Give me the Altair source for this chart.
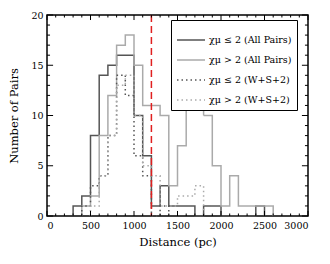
import altair as alt
import pandas as pd

# bin edges (pc) and counts, bin width 100
start_a = 300
counts_a = [1, 2, 8, 14, 15, 16, 16, 10, 6, 1, 3, 1, 1, 1, 0, 1, 1, 0, 0, 0, 0, 1]   # chi<=2 all (300..2500)
start_b = 400
counts_b = [1, 2, 8, 12, 17, 18, 15, 11, 11, 10, 3, 7, 11, 12, 10, 5, 1, 4, 1, 1, 1, 1]  # chi>2 all (400..2600)
start_c = 400
counts_c = [1, 3, 4, 8, 14, 12, 6, 4, 0, 1]          # chi<=2 W+S+2
start_d = 500
counts_d = [1, 4, 8, 13, 14, 10, 5, 4, 1, 1, 2, 2, 3]  # chi>2 W+S+2

labels = ["χμ ≤ 2 (All Pairs)", "χμ > 2 (All Pairs)", "χμ ≤ 2 (W+S+2)", "χμ > 2 (W+S+2)"]
colors = ["#555555", "#aaaaaa", "#555555", "#aaaaaa"]
dashes = [[1, 0], [1, 0], [1.5, 3], [1.5, 3]]
cut = [1200]

x_major = [0, 500, 1000, 1500, 2000, 2500, 3000]
y_major = [0, 5, 10, 15, 20]

rows = []
for lab, st, cs in zip(labels, [start_a, start_b, start_c, start_d], [counts_a, counts_b, counts_c, counts_d]):
    rows.append({"s": lab, "x": st, "y": 0, "o": 0})
    for i, c in enumerate(cs):
        rows.append({"s": lab, "x": st + 100 * i, "y": c, "o": i + 1})
    rows.append({"s": lab, "x": st + 100 * len(cs), "y": 0, "o": len(cs) + 1})
df = pd.DataFrame(rows)

font = "DejaVu Serif"
xs = alt.Scale(domain=[0, 3000], nice=False)
ys = alt.Scale(domain=[0, 20], nice=False)

hist = alt.Chart(df).mark_line(interpolate="step-after", strokeWidth=1.5).encode(
    x=alt.X("x:Q", scale=xs, axis=alt.Axis(values=x_major, format="d", title="Distance (pc)", tickSize=0,
                                            labelPadding=4, grid=False)),
    y=alt.Y("y:Q", scale=ys, axis=alt.Axis(values=y_major, format="d", title="Number of Pairs", tickSize=0,
                                            labelPadding=4, grid=False)),
    color=alt.Color("s:N", scale=alt.Scale(domain=labels, range=colors), title=None,
                    legend=alt.Legend(orient="none", legendX=124, legendY=5, symbolType="stroke",
                                      symbolSize=784, symbolStrokeWidth=1.5, strokeColor="black",
                                      fillColor="white", padding=5, labelFont=font, labelFontSize=9.5,
                                      labelColor="black", rowPadding=-11, labelLimit=200, labelOffset=3)),
    strokeDash=alt.StrokeDash("s:N", scale=alt.Scale(domain=labels, range=dashes), title=None),
    order="o:Q",
    detail="s:N",
)

red = alt.Chart(pd.DataFrame({"x": cut})).mark_rule(color="#e02020", strokeWidth=1.5,
                                                     strokeDash=[7, 4]).encode(x=alt.X("x:Q", scale=xs))

# inward ticks (major and minor) on all four sides
xt = pd.DataFrame({"x": list(range(0, 3001, 100))})
xt["len"] = [0.5 if v % 500 == 0 else 0.25 for v in xt["x"]]
xt["top"] = 20 - xt["len"]
xt["b0"] = 0
xt["t0"] = 20
yt = pd.DataFrame({"y": list(range(0, 21))})
yt["len"] = [70 if v % 5 == 0 else 35 for v in yt["y"]]
yt["right"] = 3000 - yt["len"]
yt["l0"] = 0
yt["r0"] = 3000

tb = alt.Chart(xt).mark_rule(color="black", strokeWidth=1).encode(
    x=alt.X("x:Q", scale=xs), y=alt.Y("b0:Q", scale=ys), y2="len:Q")
tt = alt.Chart(xt).mark_rule(color="black", strokeWidth=1).encode(
    x=alt.X("x:Q", scale=xs), y=alt.Y("t0:Q", scale=ys), y2="top:Q")
tl = alt.Chart(yt).mark_rule(color="black", strokeWidth=1).encode(
    y=alt.Y("y:Q", scale=ys), x=alt.X("l0:Q", scale=xs), x2="len:Q")
tr = alt.Chart(yt).mark_rule(color="black", strokeWidth=1).encode(
    y=alt.Y("y:Q", scale=ys), x=alt.X("r0:Q", scale=xs), x2="right:Q")

chart = alt.layer(hist, red, tb, tt, tl, tr).properties(
    width=261, height=201,
    padding={"left": 39, "top": 7, "right": 14, "bottom": 40},
    autosize="none",
).configure_view(stroke="black", strokeWidth=1.5).configure_axis(
    labelFont=font, titleFont=font, labelFontSize=9.5, titleFontSize=11.5,
    titleFontWeight="normal", labelColor="black", titleColor="black", domain=False,
).configure_axisX(titlePadding=7).configure_axisY(titlePadding=11)

chart.save("out.html", embed_options={"renderer": "svg", "actions": False})
